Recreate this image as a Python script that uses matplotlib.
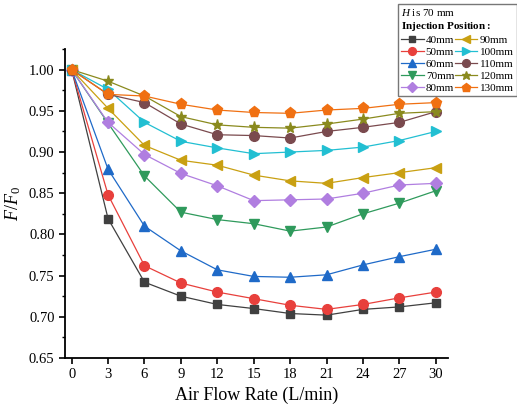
import matplotlib
matplotlib.use("Agg")
import matplotlib.pyplot as plt
from matplotlib.ticker import MultipleLocator

plt.rcParams['font.family'] = ['Liberation Serif', 'DejaVu Serif']
plt.rcParams['mathtext.fontset'] = 'custom'
plt.rcParams['mathtext.rm'] = 'Liberation Serif'
plt.rcParams['mathtext.it'] = 'Liberation Serif:italic'
plt.rcParams['mathtext.bf'] = 'Liberation Serif:bold'

flow = [0, 3, 6, 9, 12, 15, 18, 21, 24, 27, 30]
labels = ['40mm', '50mm', '60mm', '70mm', '80mm', '90mm',
          '100mm', '110mm', '120mm', '130mm']

r40 = [1.000, 0.819, 0.742, 0.725, 0.715, 0.710, 0.704, 0.702, 0.709, 0.712, 0.717]
r50 = [1.000, 0.848, 0.762, 0.741, 0.730, 0.722, 0.714, 0.709, 0.715, 0.723, 0.730]
r60 = [1.000, 0.879, 0.810, 0.780, 0.757, 0.749, 0.748, 0.751, 0.763, 0.773, 0.782]
r70 = [1.000, 0.935, 0.871, 0.827, 0.818, 0.813, 0.804, 0.809, 0.825, 0.838, 0.853]
r80 = [1.000, 0.936, 0.897, 0.874, 0.859, 0.841, 0.842, 0.843, 0.850, 0.860, 0.862]
r90 = [1.000, 0.953, 0.908, 0.890, 0.884, 0.872, 0.865, 0.862, 0.869, 0.875, 0.881]
r100 = [1.000, 0.976, 0.936, 0.913, 0.905, 0.898, 0.900, 0.902, 0.906, 0.914, 0.925]
r110 = [1.000, 0.970, 0.960, 0.934, 0.921, 0.920, 0.917, 0.925, 0.930, 0.936, 0.949]
r120 = [1.000, 0.986, 0.968, 0.943, 0.933, 0.930, 0.929, 0.934, 0.940, 0.947, 0.949]
r130 = [1.000, 0.970, 0.968, 0.958, 0.951, 0.948, 0.947, 0.951, 0.953, 0.958, 0.960]

series = [r40, r50, r60, r70, r80, r90, r100, r110, r120, r130]
colors = ['#404040', '#e8403c', '#1f6ac8', '#2f9a5c', '#b07ee0', '#c9a012',
          '#22bfd2', '#7a4a4e', '#8a8a1e', '#f07012']
markers = ['s', 'o', '^', 'v', 'D', '<', '>', 'o', '*', 'p']
sizes = [6, 7, 7, 7, 6, 7, 7, 7, 8, 8]

fig = plt.figure(figsize=(5.17, 4.13), dpi=100)
ax = fig.add_axes([0.1257, 0.1332, 0.7408, 0.748])

for vals, lab, c, m, s in zip(series, labels, colors, markers, sizes):
    ax.plot(flow, vals, color=c, lw=0.9, marker=m, ms=s, mec=c, mfc=c, label=lab)

ax.set_xlim(-0.55, 31)
ax.set_ylim(0.65, 1.025)
ax.set_xticks(flow)
ax.yaxis.set_major_locator(MultipleLocator(0.05))
ax.yaxis.set_minor_locator(MultipleLocator(0.025))
ax.yaxis.set_major_formatter(plt.FormatStrFormatter('%.2f'))
ax.tick_params(axis='both', direction='out', labelsize=10.5, width=1.2, length=4)
ax.tick_params(axis='y', which='minor', direction='out', length=2.5, width=1.0)
ax.spines['top'].set_visible(False)
ax.spines['right'].set_visible(False)
ax.spines['left'].set_linewidth(1.3)
ax.spines['bottom'].set_linewidth(1.3)

ax.set_xlabel('Air Flow Rate (L/min)', fontsize=13)
ax.set_ylabel(r'$\it{F}/\it{F}_{0}$', fontsize=13)

title = r'$\it{H}$ is 70 mm' + '\n' + r'$\bf{Injection\ Position{:}}$'
leg = fig.legend(loc='upper left', bbox_to_anchor=(398 / 517, 1 - 4 / 413),
                 ncol=2, fontsize=8, title=title, title_fontsize=8,
                 alignment='left', frameon=True, fancybox=False,
                 edgecolor='#555555', handlelength=2.0, handletextpad=0.2,
                 columnspacing=0.1, labelspacing=0.2, borderpad=0.3,
                 borderaxespad=0.0, markerscale=0.8)
leg.get_frame().set_linewidth(1.0)

fig.savefig('out.png', dpi=100)
